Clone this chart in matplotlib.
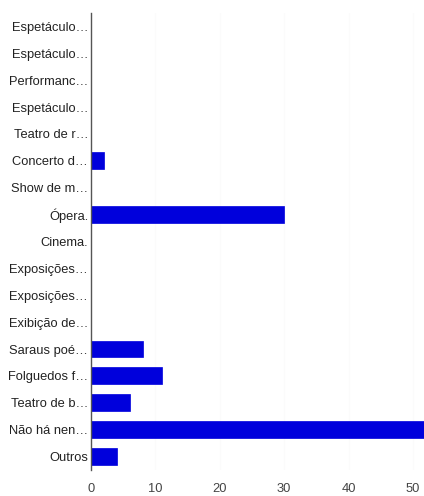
import matplotlib
matplotlib.use("Agg")
import matplotlib.pyplot as plt

categories = ["Espetáculo…", "Espetáculo…", "Performanc…", "Espetáculo…", "Teatro de r…",
              "Concerto d…", "Show de m…", "Ópera.", "Cinema.", "Exposições…",
              "Exposições…", "Exibição de…", "Saraus poé…", "Folguedos f…", "Teatro de b…",
              "Não há nen…", "Outros"]
values = [0, 0, 0, 0, 0, 2, 0, 30, 0, 0, 0, 0, 8, 11, 6, 52, 4]
xticks = [0, 10, 20, 30, 40, 50]

plt.rcParams['font.family'] = ['Liberation Sans', 'DejaVu Sans']

fig = plt.figure(figsize=(4.24, 4.96), dpi=100)
ax = fig.add_axes([91/424, 26/496, 1 - 91/424, (470 - 13)/496])

n = len(categories)
ypos = list(range(n))
ax.barh(ypos, values, height=0.63, color='#0000dc', edgecolor='#0000dc', linewidth=0.5, zorder=3)
ax.set_ylim(n - 0.5, -0.5)
ax.set_xlim(0, 51.7)
ax.set_yticks(ypos)
ax.set_yticklabels(categories, fontsize=9.3, color='#222222')
ax.set_xticks(xticks)
ax.set_xticklabels([str(t) for t in xticks], fontsize=9.3, color='#444444')
ax.tick_params(axis='both', length=0)
ax.tick_params(axis='y', pad=2)
ax.tick_params(axis='x', pad=9)
for t in xticks[1:]:
    ax.axvline(t, color='#fbfbfb', linewidth=0.8, zorder=1)
for s in ['top', 'right', 'bottom']:
    ax.spines[s].set_visible(False)
ax.spines['left'].set_color('#555555')
ax.spines['left'].set_linewidth(1)
ax.spines['left'].set_zorder(4)

fig.savefig("out.png", dpi=100)
